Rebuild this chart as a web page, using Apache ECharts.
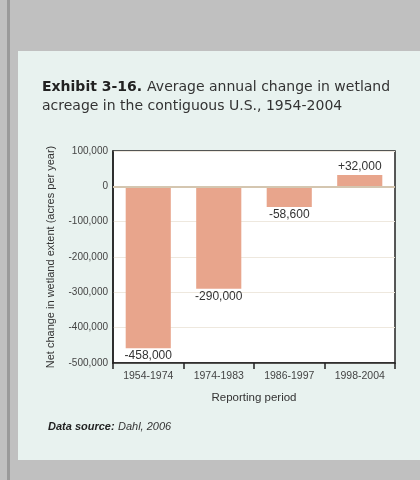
<!DOCTYPE html>
<html>
<head>
<meta charset="utf-8">
<script src="https://cdn.jsdelivr.net/npm/echarts@6/dist/echarts.min.js"></script>
<style>
  html, body { margin: 0; padding: 0; background: #c0c0c0; }
  #chart { width: 420px; height: 480px; }
</style>
</head>
<body>
<div id="chart"></div>
<script>
// Reporting periods and average annual net change in wetland acreage
var periods = ['1954-1974', '1974-1983', '1986-1997', '1998-2004'];
var netChange = [-458000, -290000, -58600, 32000];
var yTicks = { min: -500000, max: 100000, step: 100000 };

var FONT = '"Liberation Sans", Arial, Helvetica, sans-serif';
var TITLE_FONT = '"DejaVu Sans", "Liberation Sans", Arial, sans-serif';

function withCommas(v) {
  return Math.abs(v).toString().replace(/\B(?=(\d{3})+(?!\d))/g, ',');
}
function signed(v) {
  return (v > 0 ? '+' : v < 0 ? '-' : '') + withCommas(v);
}

var chart = echarts.init(document.getElementById('chart'), null, { renderer: 'canvas' });

chart.setOption({
  backgroundColor: '#c0c0c0',
  animation: false,
  textStyle: { fontFamily: FONT },
  graphic: [
    // darker rule down the left margin
    { type: 'rect', z: -10, shape: { x: 7, y: 0, width: 3, height: 480 }, style: { fill: '#9a9a9a' } },
    // light exhibit panel
    { type: 'rect', z: -10, shape: { x: 18, y: 51, width: 402, height: 409 }, style: { fill: '#e8f2ef' } },
    // source note
    {
      type: 'text', left: 48, top: 421, z: 10,
      style: {
        text: '{b|Data source:} {i|Dahl, 2006}',
        rich: {
          b: { fontFamily: FONT, fontSize: 11, fontWeight: 'bold', fontStyle: 'italic', fill: '#222' },
          i: { fontFamily: FONT, fontSize: 11, fontWeight: 'normal', fontStyle: 'italic', fill: '#333' }
        }
      }
    }
  ],
  title: {
    left: 37,
    top: 73,
    text: '{b|Exhibit 3-16.} {r|Average annual change in wetland}\n{r|acreage in the contiguous U.S., 1954-2004}',
    textStyle: {
      fontWeight: 'normal',
      rich: {
        b: { fontFamily: TITLE_FONT, fontSize: 14, fontWeight: 'bold', color: '#222', lineHeight: 19 },
        r: { fontFamily: TITLE_FONT, fontSize: 14, fontWeight: 'normal', color: '#333', lineHeight: 19 }
      }
    }
  },
  grid: {
    left: 113, top: 151, right: 25, bottom: 117,
    show: true, backgroundColor: '#ffffff', borderColor: '#222', borderWidth: 1.5
  },
  xAxis: {
    type: 'category',
    data: periods,
    position: 'bottom',
    name: 'Reporting period',
    nameLocation: 'middle',
    nameGap: 29,
    nameTextStyle: { fontFamily: FONT, fontSize: 11.5, color: '#333' },
    axisLine: { show: true, onZero: false, lineStyle: { color: '#222', width: 1.5 } },
    axisTick: { show: true, alignWithLabel: false, inside: false, length: 6, lineStyle: { color: '#222', width: 1.5 } },
    axisLabel: { fontFamily: FONT, fontSize: 10.5, color: '#444', margin: 8 },
    splitLine: { show: false }
  },
  yAxis: {
    type: 'value',
    min: yTicks.min,
    max: yTicks.max,
    interval: yTicks.step,
    name: 'Net change in wetland extent (acres per year)',
    nameLocation: 'middle',
    nameGap: 57,
    nameTextStyle: { fontFamily: FONT, fontSize: 11, color: '#333' },
    axisLine: { show: true, lineStyle: { color: '#222', width: 1.5 } },
    axisTick: { show: false },
    axisLabel: {
      fontFamily: FONT, fontSize: 10, color: '#444', margin: 5,
      formatter: function (v) { return (v < 0 ? '-' : '') + withCommas(v); }
    },
    splitLine: { show: true, lineStyle: { color: '#eee8de', width: 1 } }
  },
  series: [{
    type: 'bar',
    barCategoryGap: '36%',
    itemStyle: { color: '#e8a58c' },
    data: netChange.map(function (v) {
      return {
        value: v,
        label: { position: v < 0 ? 'bottom' : 'top' }
      };
    }),
    label: {
      show: true,
      distance: 2,
      fontFamily: FONT,
      fontSize: 12,
      color: '#333',
      formatter: function (p) { return signed(p.value); }
    },
    markLine: {
      silent: true,
      symbol: 'none',
      label: { show: false },
      lineStyle: { color: '#d4c6b0', width: 2, type: 'solid' },
      data: [{ yAxis: 0 }]
    }
  }]
});
</script>
</body>
</html>
